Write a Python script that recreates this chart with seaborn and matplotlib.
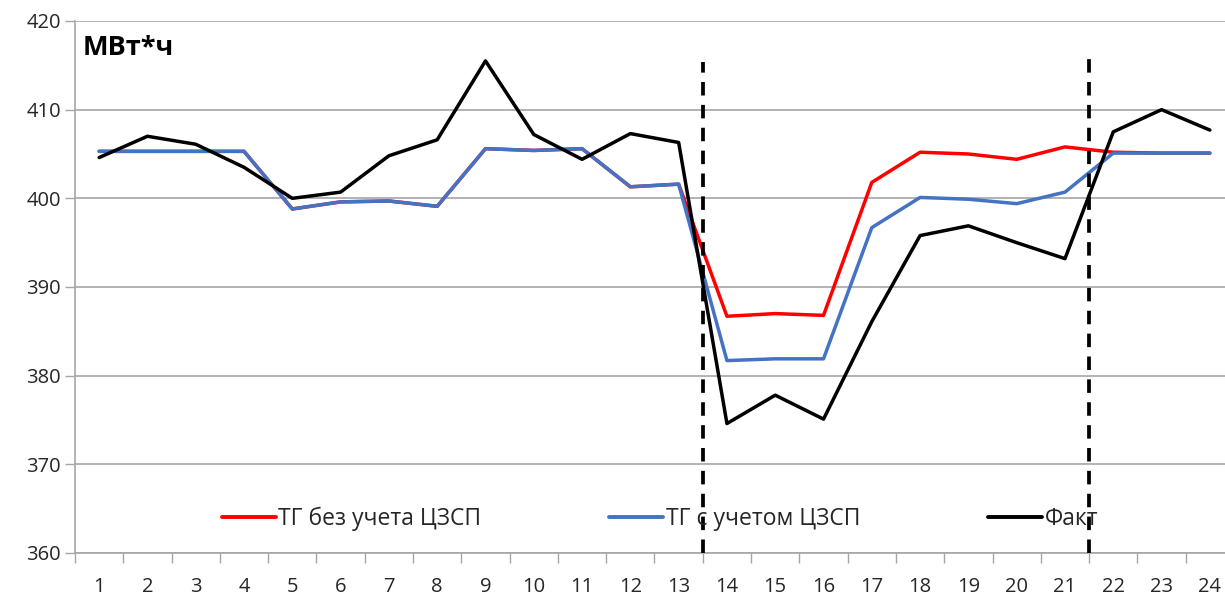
import matplotlib
matplotlib.use("Agg")
import matplotlib.pyplot as plt
import seaborn as sns
import pandas as pd
from matplotlib.ticker import MultipleLocator, FixedLocator
from matplotlib.lines import Line2D

hours = list(range(1, 25))
tg_no_czsp = [405.3, 405.3, 405.3, 405.3, 398.8, 399.6, 399.7, 399.1, 405.6, 405.4, 405.6, 401.3,
              401.6, 386.7, 387.0, 386.8, 401.8, 405.2, 405.0, 404.4, 405.8, 405.2, 405.1, 405.1]
tg_czsp = [405.3, 405.3, 405.3, 405.3, 398.8, 399.6, 399.7, 399.1, 405.6, 405.4, 405.6, 401.3,
           401.6, 381.7, 381.9, 381.9, 396.7, 400.1, 399.9, 399.4, 400.7, 405.1, 405.1, 405.1]
fact = [404.6, 407.0, 406.1, 403.5, 400.0, 400.7, 404.8, 406.6, 415.5, 407.2, 404.4, 407.3,
        406.3, 374.6, 377.8, 375.1, 386.1, 395.8, 396.9, 395.0, 393.2, 407.5, 410.0, 407.7]
series_names = ["ТГ без учета ЦЗСП", "ТГ с учетом ЦЗСП", "Факт"]
series_colors = ["#FF0000", "#4472C4", "#000000"]
boundaries = [13.5, 21.5]
boundary_tops = [415.4, 416.4]
unit_label = "МВт*ч"

sns.set_theme(style="white")
plt.rcParams["font.family"] = ["Open Sans", "DejaVu Sans"]

df = pd.DataFrame({"hour": hours * 3,
                   "value": tg_no_czsp + tg_czsp + fact,
                   "series": [series_names[0]] * 24 + [series_names[1]] * 24 + [series_names[2]] * 24})

fig = plt.figure(figsize=(12.25, 5.98), dpi=100)
ax = fig.add_axes([75 / 1225, 45 / 598, 1159 / 1225, 532 / 598])

sns.lineplot(data=df, x="hour", y="value", hue="series", palette=dict(zip(series_names, series_colors)),
             hue_order=series_names, linewidth=2.5, ax=ax, legend=False, sort=False)

for xb, top in zip(boundaries, boundary_tops):
    ax.vlines(xb, 360, top, colors="black", linestyles=(0, (3.6, 2.5)), linewidth=2.7, zorder=5)

ax.set_xlim(0.5, 24.5)
ax.set_ylim(360, 420)
ax.yaxis.set_major_locator(MultipleLocator(10))
ax.set_xticks(hours)
ax.set_xticklabels([str(h) for h in hours])
ax.xaxis.set_minor_locator(FixedLocator([h + 0.5 for h in range(0, 25)]))
ax.tick_params(axis="x", which="major", length=0, pad=17, labelsize=14.5, colors="#262626")
ax.tick_params(axis="x", which="minor", length=7, width=1, color="#A6A6A6", direction="out", bottom=True)
ax.tick_params(axis="y", which="major", length=7, width=1, color="#A6A6A6", direction="out", left=True,
               labelsize=14.5, pad=3, colors="#262626")
ax.grid(axis="y", color="#A6A6A6", linewidth=1.2)
ax.grid(axis="x", visible=False)
for s in ["top", "right"]:
    ax.spines[s].set_visible(False)
for s in ["left", "bottom"]:
    ax.spines[s].set_color("#A6A6A6")
    ax.spines[s].set_linewidth(1.2)
ax.set_xlabel("")
ax.set_ylabel("")

ax.text(8 / 1159, (553 - 48) / 532, unit_label, transform=ax.transAxes, fontsize=19.5, fontweight="bold",
        ha="left", va="center", color="#000000")

handles = [Line2D([0], [0], color=c, linewidth=2.8) for c in series_colors]
ax.legend(handles, series_names, loc="center left", bbox_to_anchor=((222 - 75) / 1159, 0.064), ncol=3,
          frameon=False, fontsize=16.5, handlelength=2.35, handletextpad=0.1, columnspacing=5.6,
          borderaxespad=0, borderpad=0, labelcolor="#262626")

fig.savefig("out.png", dpi=100, facecolor="white")
